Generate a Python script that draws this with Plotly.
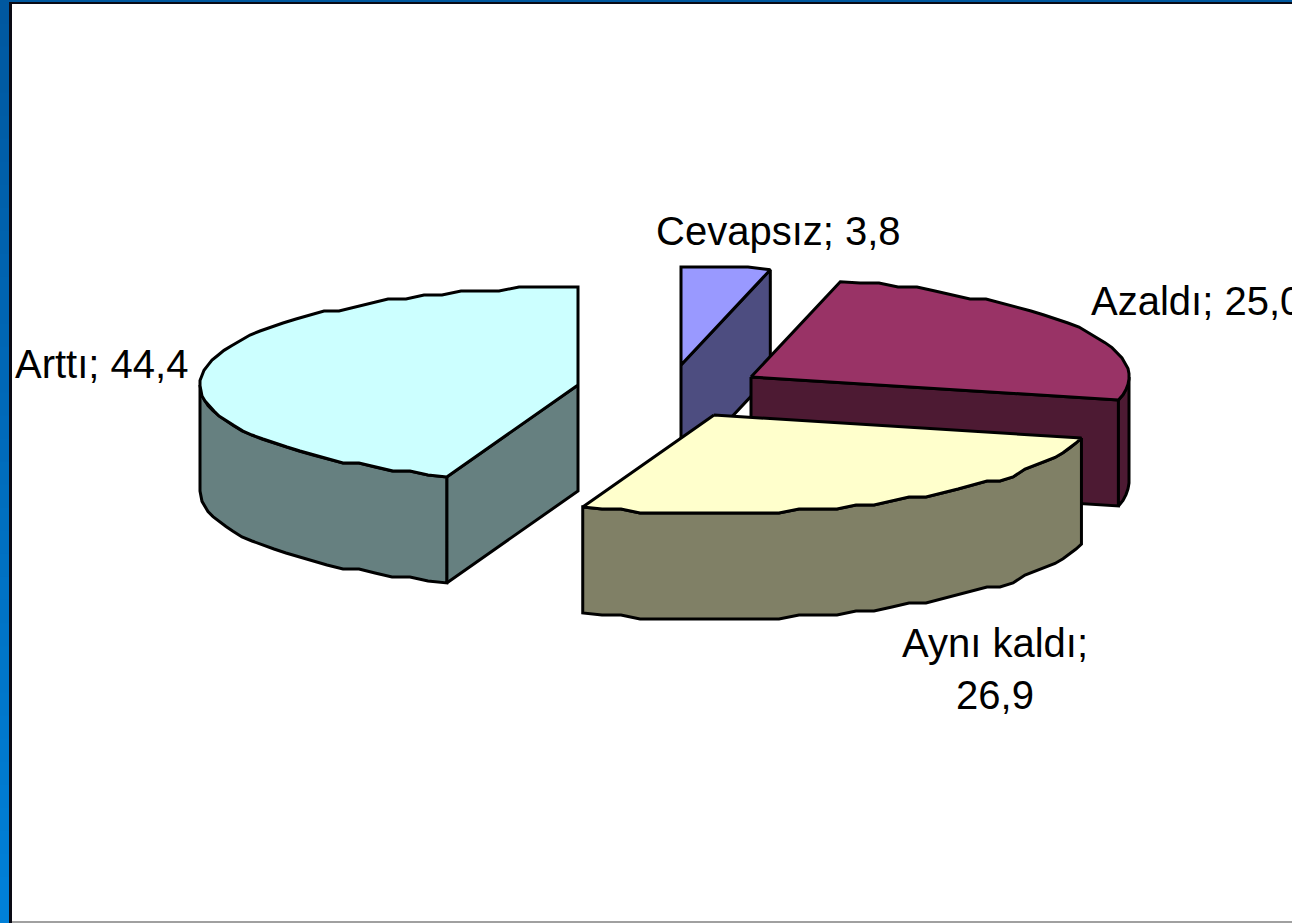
import math
import plotly.graph_objects as go

# Data (clockwise from 12 o'clock)
labels = ["Cevapsız", "Azaldı", "Aynı kaldı", "Arttı"]
values = [3.8, 25.0, 26.9, 44.4]
value_text = ["3,8", "25,0", "26,9", "44,4"]

# Style
top_colors = ["#9999FF", "#993366", "#FFFFCC", "#CCFFFF"]
side_colors = ["#4D4D80", "#4D1A33", "#808066", "#668080"]
centers = [(681, 365), (751, 377), (714, 415), (578, 385)]
draw_order = [3, 0, 1, 2]
label_pos = [(778, 231, "center"), (1089, 301, "left"), (995, 669, "center"), (101, 364, "center")]
label_break = ["; ", "; ", ";<br>", "; "]
RX, RY, DEPTH = 378, 98, 106
STEP_DEG, Y_GRID = 3.0, 4
W, H = 1292, 923

total = sum(values)
bounds = [0.0]
for v in values:
    bounds.append(bounds[-1] + 360.0 * v / total)


def rim(c, deg, dz=0):
    t = math.radians(deg)
    return c[0] + RX * math.sin(t), c[1] - RY * math.cos(t) + dz


def arc(c, a, b, dz=0):
    n = max(1, int(abs(b - a) / STEP_DEG))
    angs = [a + (b - a) * i / n for i in range(n + 1)]
    pts = [rim(c, d, dz) for d in angs]
    out = [pts[0]]
    for d, (x, y) in zip(angs[1:-1], pts[1:-1]):
        # the outline of the original is stepped where the rim runs nearly flat
        cs = math.cos(math.radians(d))
        if abs(cs) > 0.45:
            extreme = c[1] + dz - RY * (1 if cs > 0 else -1)
            y = extreme + round((y - extreme) / Y_GRID) * Y_GRID
        out.append((round(x), y))
    out.append(pts[-1])
    return out


def face(pts, color):
    xs = [p[0] for p in pts] + [pts[0][0]]
    ys = [p[1] for p in pts] + [pts[0][1]]
    return go.Scatter(x=xs, y=ys, mode="lines", fill="toself", fillcolor=color,
                      line=dict(color="#000000", width=3), hoverinfo="skip", showlegend=False)


fig = go.Figure()
for i in draw_order:
    c, a, b = centers[i], bounds[i], bounds[i + 1]
    bottom = (c[0], c[1] + DEPTH)
    # radial walls that face the viewer
    if 0 < b < 180:
        p = rim(c, b)
        fig.add_trace(face([c, p, (p[0], p[1] + DEPTH), bottom], side_colors[i]))
    if 180 < a < 360:
        p = rim(c, a)
        fig.add_trace(face([c, p, (p[0], p[1] + DEPTH), bottom], side_colors[i]))
    # outer wall: the part of the rim on the near half
    lo, hi = max(a, 90), min(b, 270)
    if lo < hi:
        fig.add_trace(face(arc(c, lo, hi) + arc(c, hi, lo, DEPTH), side_colors[i]))
    # top face
    fig.add_trace(face([c] + arc(c, a, b), top_colors[i]))

annotations = []
for i, (x, y, anchor) in enumerate(label_pos):
    annotations.append(dict(x=x, y=y, xref="x", yref="y", xanchor=anchor, yanchor="middle",
                            text=labels[i] + label_break[i] + value_text[i], showarrow=False,
                            align="center", font=dict(family="Liberation Sans", size=40, color="#000000")))

# slide frame: vertical blue gradient on the left, dark inner border, grey foot line
frame_top, frame_bottom = (0, 88, 160), (0, 128, 216)
shapes = []
BANDS = 40
for k in range(BANDS):
    f = k / (BANDS - 1)
    col = tuple(round(frame_top[j] + (frame_bottom[j] - frame_top[j]) * f) for j in range(3))
    shapes.append(dict(type="rect", layer="below", x0=0, x1=9, y0=H * k / BANDS, y1=H * (k + 1) / BANDS + 1,
                       fillcolor="rgb(%d,%d,%d)" % col, line_width=0))
shapes += [
    dict(type="rect", layer="below", x0=0, x1=W, y0=0, y1=2, fillcolor="#00589F", line_width=0),
    dict(type="rect", layer="below", x0=9, x1=W, y0=2, y1=4, fillcolor="#0A0A14", line_width=0),
    dict(type="rect", layer="below", x0=9, x1=12, y0=2, y1=H, fillcolor="#0A0A14", line_width=0),
    dict(type="rect", layer="below", x0=12, x1=W, y0=921, y1=H, fillcolor="#A0A0A0", line_width=0),
]

fig.update_layout(
    width=W, height=H, margin=dict(l=0, r=0, t=0, b=0), autosize=False,
    paper_bgcolor="#FFFFFF", plot_bgcolor="#FFFFFF", showlegend=False,
    xaxis=dict(range=[0, W], visible=False, fixedrange=True),
    yaxis=dict(range=[H, 0], visible=False, fixedrange=True),
    annotations=annotations, shapes=shapes,
)
fig.write_html("out.html", config={"displayModeBar": False},
               post_script="document.body.style.margin='0';document.body.style.overflow='hidden';")
